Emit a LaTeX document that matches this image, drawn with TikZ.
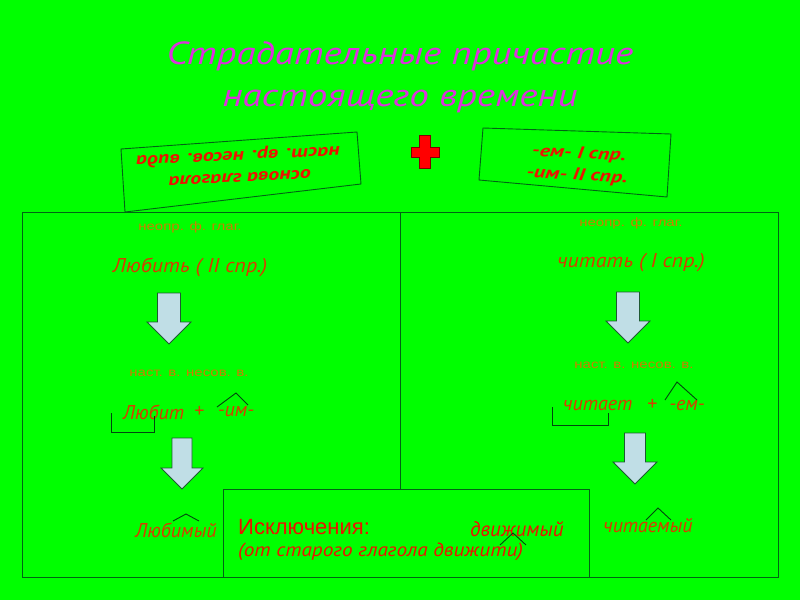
\documentclass[tikz,border=0pt]{standalone}
\usepackage{fontspec}
\setmainfont{Liberation Sans}[ItalicFont={PT Sans Italic}, BoldItalicFont={PT Sans Bold Italic}]
\definecolor{bg}{RGB}{0,255,0}
\definecolor{lin}{RGB}{0,100,20}
\definecolor{ttl}{RGB}{220,50,220}
\definecolor{rd}{RGB}{235,20,0}
\definecolor{orr}{RGB}{215,60,0}
\definecolor{lab}{RGB}{205,125,0}
\definecolor{afill}{RGB}{192,222,230}
\definecolor{aline}{RGB}{30,90,50}
\tikzset{
  frame/.style={draw=lin, line width=0.9pt},
  hat/.style={draw=lin!70!black, line width=0.9pt},
  ttlstyle/.style={text=ttl, font=\fontsize{32}{34}\selectfont\itshape, inner sep=0pt, xscale=1.22, anchor=base},
  boxtxt/.style={text=rd, font=\fontsize{17}{22}\selectfont\bfseries\itshape, align=center, inner sep=0pt, xscale=1.3},
  labtxt/.style={text=lab, font=\fontsize{12}{13}\selectfont, inner sep=0pt, xscale=1.25},
  verbtxt/.style={text=orr, font=\fontsize{20}{22}\selectfont\itshape, inner sep=0pt, xscale=1.1},
  redtxt/.style={text=rd, font=\fontsize{21}{22}\selectfont\itshape, inner sep=0pt},
  blockarr/.style={fill=afill, draw=aline, line width=0.8pt},
}
\newcommand{\myblockarrow}[6]{% cx, top, headY, tip, shaft half, head half
  \draw[blockarr] (#1-#5,#2) -- (#1+#5,#2) -- (#1+#5,#3) -- (#1+#6,#3) -- (#1,#4)
     -- (#1-#6,#3) -- (#1-#5,#3) -- cycle;}
\begin{document}
\begin{tikzpicture}[x=1pt,y=-1pt]
\useasboundingbox (0,0) rectangle (800,600);
\fill[bg] (0,0) rectangle (800,600);

% title
\node[ttlstyle] (t1) at (400,64) {Страдательные причастие};
\node[ttlstyle] (t2) at (400,106) {настоящего времени};

% tilted boxes
\draw[frame] (121,149) -- (357,132) -- (361,184) -- (125,212) -- cycle;
\node[boxtxt, rotate=183.5] (lbox) at (239,165) {основа глагола\\наст. вр. несов. вида};
\draw[frame] (483,128) -- (671,134) -- (667,197) -- (479,180) -- cycle;
\node[boxtxt, rotate=-4] (rbox) at (578,165) {-ем- I спр.\\-им- II спр.};

% red cross
\draw[fill=red, draw=red!50!black, line width=0.8pt]
  (419,135) -- (430,135) -- (430,147) -- (439,147) -- (439,157) -- (430,157) -- (430,168)
  -- (419,168) -- (419,157) -- (411,157) -- (411,147) -- (419,147) -- cycle;

% frames
\draw[frame] (22,212) rectangle (778,577);
\draw[frame] (400,212) -- (400,489);
\draw[frame] (223,577) -- (223,489) -- (589,489) -- (589,577);

% left column
\node[labtxt] (l1) at (190,227) {неопр. ф. глаг.};
\node[verbtxt] (v1) at (190,267) {Любить ( II спр.)};
\myblockarrow{169}{293}{322}{344}{11.5}{22}
\node[labtxt] (l2) at (189,373) {наст. в. несов. в.};
\node[verbtxt, anchor=west, xscale=1/1.1] (s1) at (123,412) {Любит};
\node[verbtxt, xscale=1/1.1] (p1) at (199,412) {+};
\node[verbtxt, xscale=1/1.1] (f1) at (236,412) {-им-};
\draw[hat] (111,413) -- (111,432) -- (154,432) -- (154,416);
\draw[hat] (217,407) -- (236,393) -- (248,405);
\myblockarrow{182}{438}{468}{489}{10}{21}
\node[verbtxt, xscale=1/1.1] (r1) at (176,530) {Любимый};
\draw[hat] (173,521) -- (186,514) -- (199,521);

% exceptions
\node[text=rd, font=\fontsize{22}{24}\selectfont, anchor=west, inner sep=0pt] (ex) at (238,527) {Исключения:};
\node[redtxt, anchor=west] (dv) at (470,529) {движимый};
\draw[hat] (500,545) -- (513,533) -- (526,545);
\node[text=rd, font=\fontsize{19}{20}\selectfont\itshape, anchor=west, inner sep=0pt, xscale=1.12] (ot) at (238,552) {(от старого глагола движити)};

% right column
\node[labtxt] (l3) at (631,223) {неопр. ф. глаг.};
\node[verbtxt] (v2) at (631,263) {читать ( I спр.)};
\myblockarrow{628}{292}{321}{343}{11.5}{22}
\node[labtxt] (l4) at (634,365) {наст. в. несов. в.};
\node[verbtxt, anchor=west, xscale=1/1.1] (s2) at (563,405) {читает};
\node[verbtxt, xscale=1/1.1] (p2) at (652,405) {+};
\node[verbtxt, xscale=1/1.1] (f2) at (687,405) {-ем-};
\draw[hat] (552,407) -- (552,425) -- (608,425) -- (608,413);
\draw[hat] (665,400) -- (677,382) -- (697,400);
\myblockarrow{635}{433}{462}{484}{10.5}{22}
\node[verbtxt, xscale=1/1.1] (r2) at (648,526) {читаемый};
\draw[hat] (646,520) -- (658,508) -- (671,520);
\end{tikzpicture}
\end{document}
